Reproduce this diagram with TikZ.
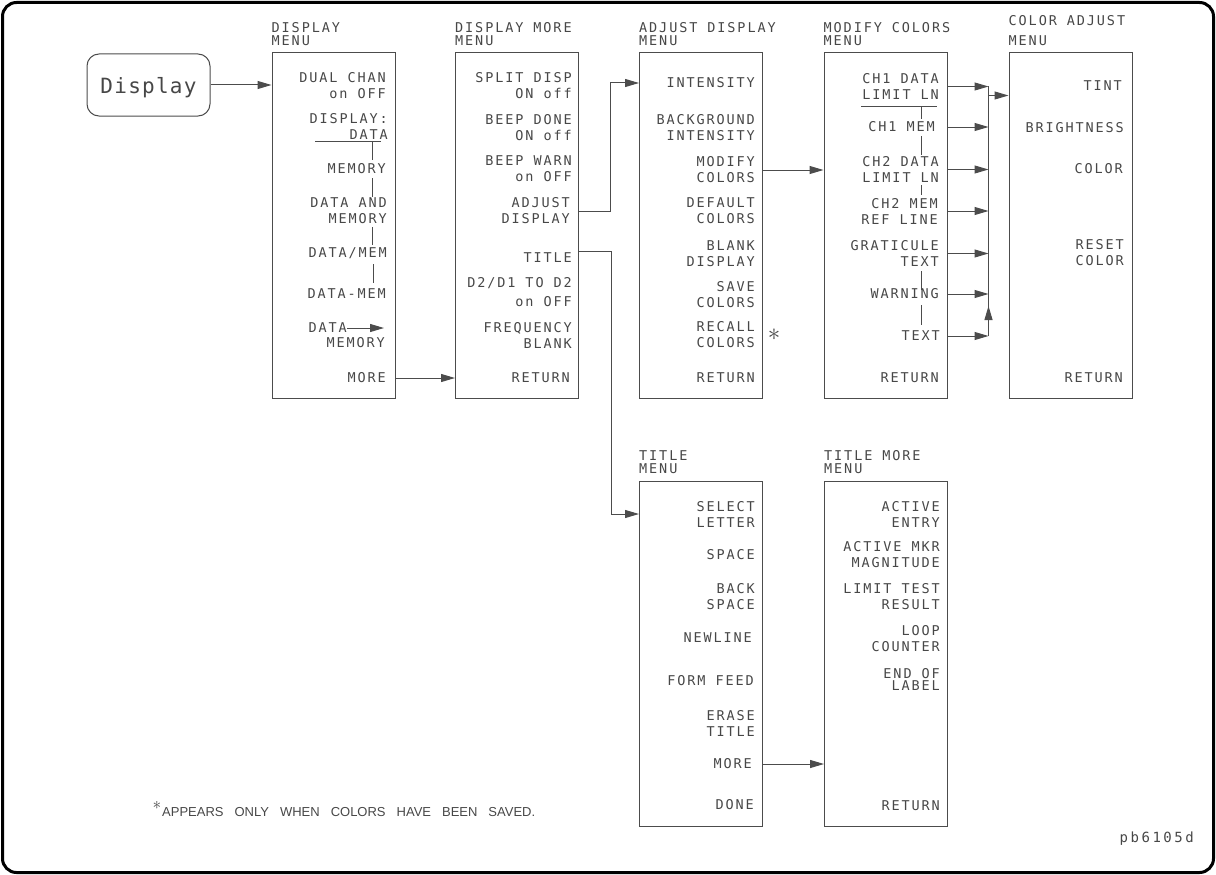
\documentclass[tikz,border=0pt]{standalone}
\usepackage{fontspec}
\setmainfont{Liberation Sans}
\newfontfamily\hpf{DejaVu Sans Mono}[LetterSpace=14]
\newfontfamily\keyf{DejaVu Sans Mono}[LetterSpace=6]
\newfontfamily\idf{DejaVu Sans Mono}[LetterSpace=18]
\usetikzlibrary{arrows.meta,calc}
\definecolor{inkc}{gray}{0.3}
\definecolor{txtc}{gray}{0.28}
\tikzset{
  ink/.style={draw=inkc, line width=1pt},
  menubox/.style={ink, rectangle, minimum width=123pt, minimum height=345pt, inner sep=0pt},
  itm/.style={anchor=east, align=right, inner sep=0pt, text=txtc, font=\hpf\fontsize{13.5}{16}\selectfont},
  ttl/.style={anchor=south west, align=left, inner sep=0pt, text=txtc, font=\hpf\fontsize{13.5}{13}\selectfont},
  arr/.style={ink, -{Triangle[length=14pt,width=8pt]}},
  keybox/.style={ink, rounded corners=12pt, minimum width=123pt, minimum height=62pt, inner sep=0pt,
    text=txtc, font=\keyf\fontsize{21}{21}\selectfont, text depth=0pt},
  starmark/.style={inner sep=0pt, text=txtc},
}
\begin{document}
\begin{tikzpicture}[x=1pt,y=-1pt]
\useasboundingbox (0,0) rectangle (1216,875);
\draw[line width=3pt, rounded corners=14pt] (2.5,2.5) rectangle (1213.5,872.5);

% key
\node[keybox] (key) at (148.5,85) {Display};

% boxes
\node[menubox] (dmenu) at (333.5,225.5) {};
\node[menubox] (dmore) at (517,225.5) {};
\node[menubox] (adjd) at (701,225.5) {};
\node[menubox] (modc) at (885.5,225.5) {};
\node[menubox] (cadj) at (1070.5,225.5) {};
\node[menubox] (tmenu) at (701,653.5) {};
\node[menubox] (tmore) at (886,653.5) {};

% titles
\node[ttl] (dmenuT) at ([yshift=6.5pt]dmenu.north west) {DISPLAY\\MENU};
\node[ttl] (dmoreT) at ([yshift=6.5pt]dmore.north west) {DISPLAY MORE\\MENU};
\node[ttl] (adjdT) at ([yshift=6.5pt]adjd.north west) {ADJUST DISPLAY\\MENU};
\node[ttl] (modcT) at ([yshift=6.5pt]modc.north west) {MODIFY COLORS\\MENU};
\node[ttl] (cadjT) at ([yshift=6.5pt]cadj.north west) {COLOR ADJUST\\[7pt]MENU};
\node[ttl] (tmenuT) at ([yshift=6.5pt]tmenu.north west) {TITLE\\MENU};
\node[ttl] (tmoreT) at ([yshift=6.5pt]tmore.north west) {TITLE MORE\\MENU};

% DISPLAY MENU
\node[itm] (dual) at (386,86) {DUAL CHAN\\on OFF};
\node[itm] (dispdata) at (388,126.5) {DISPLAY:\\DATA};
\node[itm] (memory) at (386,169) {MEMORY};
\node[itm] (dataand) at (387,211) {DATA AND\\MEMORY};
\node[itm] (datamem) at (387,253) {DATA/MEM};
\node[itm] (datamin) at (386,294) {DATA-MEM};
\node[itm] (datato) at (347,328) {DATA};
\coordinate (datatoend) at (384,328);
\node[itm] (memory2) at (385,343) {MEMORY};
\node[itm] (more1) at (386,378) {MORE};
\draw[arr] (datato.east) -- (datatoend);
\draw[ink] (315,141) -- (381,141);
\draw[ink] (372,141) -- (372,160);
\draw[ink] (372,178) -- (372,197);
\draw[ink] (372,227) -- (372,245);
\draw[ink] (373,264) -- (373,283);

% DISPLAY MORE MENU
\node[itm] (split) at (572,85.5) {SPLIT DISP\\ON off};
\node[itm] (beepd) at (572,127.5) {BEEP DONE\\ON off};
\node[itm] (beepw) at (572,169) {BEEP WARN\\on OFF};
\node[itm] (adjust) at (570,211) {ADJUST\\DISPLAY};
\node[itm] (title) at (572,258) {TITLE};
\node[itm] (d2d1) at (572,292.5) {D2/D1 TO D2\\[3pt]on OFF};
\node[itm] (freq) at (572,335.5) {FREQUENCY\\BLANK};
\node[itm] (ret2) at (570,378) {RETURN};

% ADJUST DISPLAY MENU
\node[itm] (inten) at (755,83) {INTENSITY};
\node[itm] (bgint) at (755,127.5) {BACKGROUND\\INTENSITY};
\node[itm] (modify) at (755,170) {MODIFY\\COLORS};
\node[itm] (default) at (755,211) {DEFAULT\\COLORS};
\node[itm] (blank) at (755,253.5) {BLANK\\DISPLAY};
\node[itm] (save) at (755,294.5) {SAVE\\COLORS};
\node[itm] (recall) at (755,335) {RECALL\\COLORS};
\node[starmark, font=\fontsize{24}{24}\selectfont] (star1) at (774,335) {$\ast$};
\node[itm] (ret3) at (755,378) {RETURN};

% MODIFY COLORS MENU
\node[itm] (ch1) at (939,86.5) {CH1 DATA\\LIMIT LN};
\node[itm] (ch1mem) at (935,127) {CH1 MEM};
\node[itm] (ch2) at (939,169.5) {CH2 DATA\\LIMIT LN};
\node[itm] (ch2mem) at (938,211) {CH2 MEM\\REF LINE};
\node[itm] (grat) at (939,253.5) {GRATICULE\\TEXT};
\node[itm] (warn) at (939,294) {WARNING};
\node[itm] (txt) at (940,336) {TEXT};
\node[itm] (ret4) at (939,378) {RETURN};
\draw[ink] (861,106) -- (937,106);
\draw[ink] (921,106) -- (921,119);
\draw[ink] (921,136) -- (921,155);
\draw[ink] (921,185) -- (921,195);
\draw[ink] (921,271) -- (921,290);
\draw[ink] (921,305) -- (921,325);

% COLOR ADJUST MENU
\node[itm] (tint) at (1122,86) {TINT};
\node[itm] (bright) at (1124,128) {BRIGHTNESS};
\node[itm] (color) at (1123,169) {COLOR};
\node[itm] (reset) at (1124,253) {RESET\\COLOR};
\node[itm] (ret5) at (1123,378) {RETURN};

% TITLE MENU
\node[itm] (select) at (755,514) {SELECT\\LETTER};
\node[itm] (space) at (755,555) {SPACE};
\node[itm] (back) at (755,597) {BACK\\SPACE};
\node[itm] (newline) at (752,638) {NEWLINE};
\node[itm] (form) at (754,681) {FORM FEED};
\node[itm] (erase) at (755,723) {ERASE\\TITLE};
\node[itm] (more2) at (752,764) {MORE};
\node[itm] (done) at (754,805) {DONE};

% TITLE MORE MENU
\node[itm] (active) at (940,514) {ACTIVE\\ENTRY};
\node[itm] (mkr) at (940,554.5) {ACTIVE MKR\\MAGNITUDE};
\node[itm] (limit) at (940,596.5) {LIMIT TEST\\RESULT};
\node[itm] (loop) at (940,638.5) {LOOP\\COUNTER};
\node[itm] (endof) at (940,679) {END OF\\[-4pt]LABEL};
\node[itm] (ret7) at (940,806) {RETURN};

% connectors
\draw[arr] (key.east) -- (key.east -| dmenu.west);
\draw[arr] (more1.east -| dmenu.east) -- (more1.east -| dmore.west);
\draw[arr] (adjust.east -| dmore.east) -- ++(31,0) |- (inten.west -| adjd.west);
\coordinate (tout) at ($(title.east -| dmore.east)+(0,-7)$);
\draw[arr] (tout) -- ++(32,0) |- (select.west -| tmenu.west);
\draw[arr] (modify.east -| adjd.east) -- (modify.east -| modc.west);
\coordinate (busx) at ([xshift=41pt]modc.east);
\foreach \n in {ch1,ch1mem,ch2,ch2mem,grat,warn,txt}
  \draw[arr] (\n.east -| modc.east) -- (\n.east -| busx);
\draw[ink] (ch1.east -| busx) -- (txt.east -| busx);
\draw[arr] (txt.east -| busx) -- ++(0,-30);
\coordinate (bj) at ($(ch1.east -| busx)+(0,9)$);
\draw[arr] (bj) -- (bj -| cadj.west);
\draw[arr] (more2.east -| tmenu.east) -- (more2.east -| tmore.west);

% footnote and id
\node[starmark, font=\fontsize{18}{18}\selectfont] (star2) at (157,805) {$\ast$};
\node[anchor=west, inner sep=0pt, text=txtc, font=\fontsize{13}{13}\selectfont] (note) at (162,812)
  {APPEARS\hspace{11pt}ONLY\hspace{11pt}WHEN\hspace{11pt}COLORS\hspace{11pt}HAVE\hspace{11pt}BEEN\hspace{11pt}SAVED.};
\node[anchor=east, inner sep=0pt, text=txtc, font=\idf\fontsize{14}{14}\selectfont] (pid) at (1194,839) {pb6105d};
\end{tikzpicture}
\end{document}
